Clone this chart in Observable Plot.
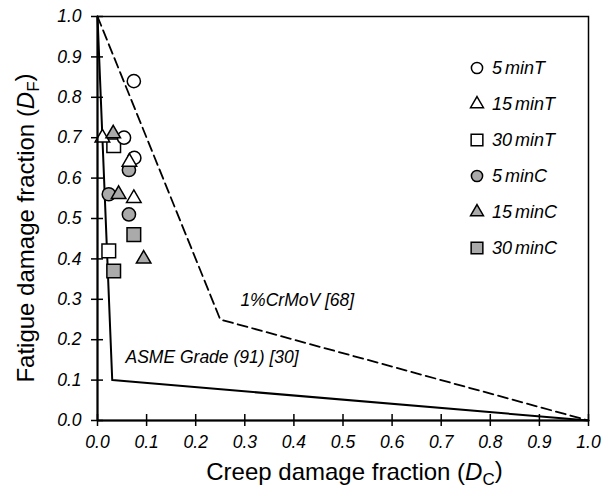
<!DOCTYPE html>
<html>
<head>
<meta charset="utf-8">
<script src="https://cdn.jsdelivr.net/npm/d3@7"></script>
<script src="https://cdn.jsdelivr.net/npm/@observablehq/plot@0.6"></script>
<style>
  html, body { margin: 0; padding: 0; background: #fff; }
  #chart { position: relative; width: 616px; height: 496px; }
</style>
</head>
<body>
<div id="chart"></div>
<script>
// Hold-time series (T = tension hold, C = compression hold)
const series = ["5 minT", "15 minT", "30 minT", "5 minC", "15 minC", "30 minC"];
const seriesSymbol = ["circle", "triangle", "square", "circle", "triangle", "square"];
const seriesFill = ["#ffffff", "#ffffff", "#ffffff", "#aaaaaa", "#aaaaaa", "#aaaaaa"];

// Measured damage fractions per series: creep (Dc) and fatigue (Df)
const dc_5minT  = [0.074, 0.054, 0.075];
const df_5minT  = [0.84, 0.70, 0.65];
const dc_15minT = [0.010, 0.065, 0.074];
const df_15minT = [0.70, 0.64, 0.55];
const dc_30minT = [0.033, 0.023];
const df_30minT = [0.68, 0.42];
const dc_5minC  = [0.064, 0.023, 0.064];
const df_5minC  = [0.62, 0.56, 0.51];
const dc_15minC = [0.032, 0.043, 0.094];
const df_15minC = [0.71, 0.56, 0.40];
const dc_30minC = [0.074, 0.033];
const df_30minC = [0.46, 0.37];

// Design envelopes (bilinear creep-fatigue interaction diagrams)
const asmeDc = [0, 0.03, 1];
const asmeDf = [1, 0.10, 0];
const crmovDc = [0, 0.25, 1];
const crmovDf = [1, 0.25, 0];

// Envelope labels
const envLabels = ["1%CrMoV [68]", "ASME Grade (91) [30]"];
const envLabelDc = [0.291, 0.057];
const envLabelDf = [0.297, 0.156];

const axisTicks = [0, 0.1, 0.2, 0.3, 0.4, 0.5, 0.6, 0.7, 0.8, 0.9, 1.0];

const dcBySeries = [dc_5minT, dc_15minT, dc_30minT, dc_5minC, dc_15minC, dc_30minC];
const dfBySeries = [df_5minT, df_15minT, df_30minT, df_5minC, df_15minC, df_30minC];
const points = series.flatMap((s, i) =>
  dcBySeries[i].map((dc, j) => ({series: s, shape: seriesSymbol[i], dc, df: dfBySeries[i][j]})));

const asme = asmeDc.map((dc, i) => ({dc, df: asmeDf[i]}));
const crmov = crmovDc.map((dc, i) => ({dc, df: crmovDf[i]}));
const labels = envLabels.map((t, i) => ({t, dc: envLabelDc[i], df: envLabelDf[i]}));

// marker radii chosen so the three shapes look the same size
const markerR = {circle: 6.6, triangle: 5.4, square: 7.7};
const legendR = {circle: 5.6, triangle: 4.8, square: 6.6};

const font = "'Liberation Sans', Arial, Helvetica, sans-serif";
const fmt = d3.format(".1f");

const plot = Plot.plot({
  width: 616,
  height: 496,
  marginLeft: 97,
  marginRight: 28,
  marginTop: 16,
  marginBottom: 76,
  style: {fontFamily: font, fontSize: "17px", background: "#fff", color: "#000"},
  x: {domain: [0, 1]},
  y: {domain: [0, 1]},
  r: {type: "identity"},
  symbol: {domain: series, range: seriesSymbol},
  color: {domain: series, range: seriesFill},
  marks: [
    // inner halves of the crossing ticks
    Plot.tickX(axisTicks, {x: d => d, insetTop: 404 - 6, stroke: "#000", strokeWidth: 1.5}),
    Plot.tickY(axisTicks, {y: d => d, insetRight: 491 - 6, stroke: "#000", strokeWidth: 1.5}),
    Plot.axisX({ticks: axisTicks, tickFormat: fmt, tickSize: 6, tickPadding: 9, strokeWidth: 1.5,
      label: null, fontStyle: "italic", fontSize: 17.5}),
    Plot.axisY({ticks: axisTicks, tickFormat: fmt, tickSize: 6, tickPadding: 10, strokeWidth: 1.5,
      label: null, fontStyle: "italic", fontSize: 17.5}),
    Plot.line(crmov, {x: "dc", y: "df", stroke: "#000", strokeWidth: 1.8, strokeDasharray: "10,5"}),
    Plot.line(asme, {x: "dc", y: "df", stroke: "#000", strokeWidth: 2}),
    Plot.text(labels, {x: "dc", y: "df", text: "t", textAnchor: "start", fontStyle: "italic",
      fontSize: 17.5, fill: "#000"}),
    Plot.dot(points, {x: "dc", y: "df", symbol: "series", fill: "series", stroke: "#000",
      strokeWidth: 1.5, r: d => markerR[d.shape]}),
    Plot.frame({stroke: "#000", strokeWidth: 1.5}),
    Plot.ruleX([0], {stroke: "#000", strokeWidth: 2}),
    Plot.ruleY([0], {stroke: "#000", strokeWidth: 2})
  ]
});

document.getElementById("chart").appendChild(plot);

const svg = d3.select(plot);
const sx = plot.scale("x"), sy = plot.scale("y");
const xMid = (sx.range[0] + sx.range[1]) / 2;
const yMid = (sy.range[0] + sy.range[1]) / 2;

// Axis titles with italic symbol and subscript
function title(g, base, sym, sub) {
  g.append("tspan").text(base);
  g.append("tspan").attr("font-style", "italic").text(sym);
  g.append("tspan").attr("font-size", "17px").attr("dy", "0.3em").text(sub);
  g.append("tspan").attr("dy", "-0.3em").text(")");
}
const xt = svg.append("text")
  .attr("x", xMid + 12).attr("y", 480)
  .attr("text-anchor", "middle")
  .attr("font-family", font).attr("font-size", 24).attr("fill", "#000");
title(xt, "Creep damage fraction (", "D", "C");

const yt = svg.append("text")
  .attr("transform", `translate(34,${yMid + 10}) rotate(-90)`)
  .attr("text-anchor", "middle")
  .attr("font-family", font).attr("font-size", 24).attr("fill", "#000");
title(yt, "Fatigue damage fraction (", "D", "F");

// Legend
const symType = {circle: d3.symbolCircle, triangle: d3.symbolTriangle, square: d3.symbolSquare};
const lg = svg.append("g").attr("transform", "translate(477,68)");
series.forEach((s, i) => {
  const row = lg.append("g").attr("transform", `translate(0,${i * 36})`);
  const rr = legendR[seriesSymbol[i]];
  row.append("path")
    .attr("d", d3.symbol(symType[seriesSymbol[i]], Math.PI * rr * rr)())
    .attr("fill", seriesFill[i]).attr("stroke", "#000").attr("stroke-width", 1.5);
  row.append("text")
    .attr("x", 15).attr("y", 0).attr("dy", "0.35em")
    .attr("text-anchor", "start")
    .attr("word-spacing", "-2px")
    .attr("font-family", font).attr("font-size", 18).attr("font-style", "italic")
    .attr("fill", "#000").text(s);
});
</script>
</body>
</html>
